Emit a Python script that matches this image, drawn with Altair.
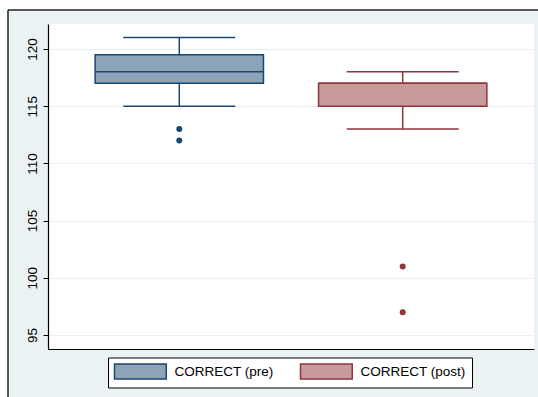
import altair as alt
import pandas as pd

# Box-plot summary for each variable
groups = ["CORRECT (pre)", "CORRECT (post)"]
whisker_low = [115, 113]
q1 = [117, 115]
median = [118, 117]
q3 = [119.5, 117]
whisker_high = [121, 118]

# Points beyond the whiskers
outlier_group = ["CORRECT (pre)", "CORRECT (pre)", "CORRECT (post)", "CORRECT (post)"]
outlier_value = [113, 112, 101, 97]

y_ticks = [95, 100, 105, 110, 115, 120]

box_df = pd.DataFrame({
    "group": groups, "lo": whisker_low, "q1": q1,
    "med": median, "q3": q3, "hi": whisker_high,
})
out_df = pd.DataFrame({"group": outlier_group, "value": outlier_value})

dark = ["#1A476F", "#90353B"]
light = ["#8CA3B8", "#C79A9D"]
FONT = "Liberation Sans"

x_scale = alt.Scale(domain=groups, paddingInner=0.2466, paddingOuter=0.211)
y_scale = alt.Scale(domain=[93.78, 122.18], nice=False, zero=False)
fill_scale = alt.Scale(domain=groups, range=light)
stroke_scale = alt.Scale(domain=groups, range=dark)

legend = alt.Legend(
    title=None, orient="none", legendX=60, legendY=333.5,
    direction="horizontal", strokeColor="black", fillColor="white",
    padding=5.5, labelFont=FONT, labelFontSize=13.5, labelColor="black",
    symbolType="M-1,-1L5.9,-1L5.9,1L-1,1Z", symbolSize=225,
    symbolStrokeWidth=1.5, symbolOpacity=1, labelOffset=44, columnPadding=23,
)

x_enc = alt.X("group:N", scale=x_scale, sort=groups,
              axis=alt.Axis(labels=False, ticks=False, title=None, grid=False,
                            domainColor="black", domainWidth=1.2))
y_axis = alt.Axis(values=y_ticks, title=None, labelAngle=270, labelAlign="center",
                  labelBaseline="alphabetic", labelFont=FONT, labelFontSize=13.5,
                  labelColor="black", labelPadding=7, tickSize=5, tickColor="black",
                  domainColor="black", domainWidth=1.2, gridColor="#E8F0F2",
                  gridWidth=1.2)

base = alt.Chart(box_df)

# outer graph-region frame (white margin with a dark edge)
frame_df = pd.DataFrame({"k": [0]})
frame_top = alt.Chart(frame_df).mark_rect(fill="white").encode(
    x=alt.value(-48), x2=alt.value(490), y=alt.value(-24), y2=alt.value(-14))
frame_left = alt.Chart(frame_df).mark_rect(fill="white").encode(
    x=alt.value(-48), x2=alt.value(-40), y=alt.value(-24), y2=alt.value(373))
edge_top = alt.Chart(frame_df).mark_rule(color="#222", strokeWidth=1.5).encode(
    x=alt.value(-40), x2=alt.value(490), y=alt.value(-14))
edge_left = alt.Chart(frame_df).mark_rule(color="#222", strokeWidth=1.5).encode(
    x=alt.value(-40), y=alt.value(-14), y2=alt.value(373))

stroke_enc = alt.Stroke("group:N", scale=stroke_scale, legend=legend)
fill_enc = alt.Fill("group:N", scale=fill_scale, legend=legend)
dot_color = alt.Color("group:N", scale=stroke_scale, legend=None)

whisk_lo = base.mark_rule(strokeWidth=1.5).encode(
    x=x_enc,
    y=alt.Y("lo:Q", scale=y_scale, axis=y_axis),
    y2="q1:Q",
    stroke=stroke_enc,
)
whisk_hi = base.mark_rule(strokeWidth=1.5).encode(
    x=alt.X("group:N"), y=alt.Y("q3:Q"), y2="hi:Q",
    stroke=stroke_enc,
)
boxes = base.mark_bar(strokeWidth=1.5, opacity=1).encode(
    x=alt.X("group:N"), y=alt.Y("q1:Q"), y2="q3:Q",
    fill=fill_enc,
    stroke=stroke_enc,
)
med = base.mark_tick(size=168, thickness=1.5, opacity=1).encode(
    x=alt.X("group:N"), y=alt.Y("med:Q"), color=dot_color,
)
cap_lo = base.mark_tick(size=112, thickness=1.5, opacity=1).encode(
    x=alt.X("group:N"), y=alt.Y("lo:Q"), color=dot_color,
)
cap_hi = base.mark_tick(size=112, thickness=1.5, opacity=1).encode(
    x=alt.X("group:N"), y=alt.Y("hi:Q"), color=dot_color,
)
outliers = alt.Chart(out_df).mark_circle(size=36, opacity=1).encode(
    x=alt.X("group:N"), y=alt.Y("value:Q"), color=dot_color,
)

chart = alt.layer(
    frame_top, frame_left, edge_top, edge_left,
    whisk_lo, whisk_hi, boxes, med, cap_lo, cap_hi, outliers,
).properties(
    width=486, height=325,
    autosize=alt.AutoSizeParams(type="none"),
    padding={"left": 48, "top": 24, "right": 4, "bottom": 48},
    background="#EAF2F3",
).configure_view(stroke=None, fill="white")

chart.save("out.html", embed_options={"renderer": "svg", "actions": False})
